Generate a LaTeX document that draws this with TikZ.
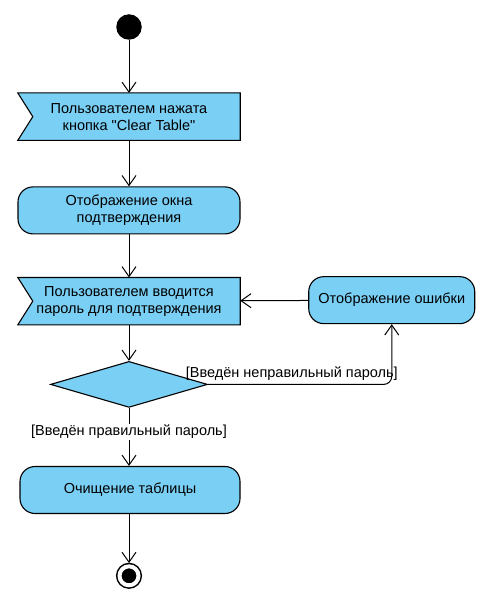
\documentclass[tikz,border=0pt]{standalone}
\usepackage{fontspec}
\setmainfont{Liberation Sans}
\usetikzlibrary{positioning, shapes.geometric, arrows.meta, backgrounds}
\definecolor{actblue}{RGB}{122,207,245}

\begin{document}
\begin{tikzpicture}[x=1pt, y=1pt]
	% Setup the styles for the activity diagram
	\tikzset{box text/.style={align=center, font=\fontsize{14.5}{17}\selectfont},
		action style/.style={box text, rectangle, rounded corners=15pt,
			draw, fill=actblue, line width=1.1pt,
			minimum width=222pt, minimum height=47pt, inner sep=0pt},
		signal style/.style={box text, rectangle,
			minimum width=222pt, minimum height=47pt, inner sep=0pt},
		signal outline/.style={draw, fill=actblue, line width=1.1pt, line join=miter},
		flow/.style={-{Straight Barb[length=10pt, width=14pt, line width=1pt]},
			line width=1pt},
		guard/.style={font=\fontsize{14.5}{17}\selectfont, inner sep=1pt}}
	
	\useasboundingbox (0,0) rectangle (488,-599);
	
	\node[circle, fill=black, minimum size=25.5pt, inner sep=0pt] (start) at (129,-27) {};
	\node[signal style, below=53pt of start]   (pressed) {Пользователем нажата\\кнопка \textquotedbl Clear Table\textquotedbl};
	\node[action style, below=46pt of pressed] (confirm) {Отображение окна\\подтверждения};
	\node[signal style, below=43pt of confirm] (password) {Пользователем вводится\\пароль для подтверждения};
	\node[action style, minimum width=166pt, right=68pt of password, yshift=1pt] (error) {Отображение ошибки};
	\node[diamond, draw, fill=actblue, line width=1.1pt, inner sep=0pt,
		minimum width=157pt, minimum height=46pt, below=36pt of password] (check) {};
	\node[action style, minimum width=220pt, below=58pt of check, xshift=1pt] (clear) {Очищение таблицы};
	\node[circle, fill=black, draw, double=white, double distance=4pt, line width=1.5pt,
		minimum size=19pt, inner sep=0pt, below=51.5pt of clear.south -| check.south] (end) {};
	
	% Signal outlines with the notch on the left
	\begin{scope}[on background layer]
		\foreach \n in {pressed, password}
		\draw[signal outline] (\n.north west) -- (\n.north east) -- (\n.south east)
			-- (\n.south west) -- ([xshift=15pt]\n.west) -- cycle;
	\end{scope}
	
	\draw[flow] (start) -- (pressed);
	\draw[flow] (pressed) -- (confirm);
	\draw[flow] (confirm) -- (password);
	\draw[flow] (password) -- (check);
	\draw[flow] (error) -- (password);
	\draw[flow, rounded corners=8pt] (check.east) -| node[guard, above, pos=0.228, yshift=2pt] {[Введён неправильный пароль]} (error.south);
	\draw[flow] (check.south) -- node[guard, fill=white, pos=0.41] {[Введён правильный пароль]} (check.south |- clear.north);
	\draw[flow, shorten >=2.5pt] (clear.south -| end.north) -- (end);
	
\end{tikzpicture}
\end{document}
